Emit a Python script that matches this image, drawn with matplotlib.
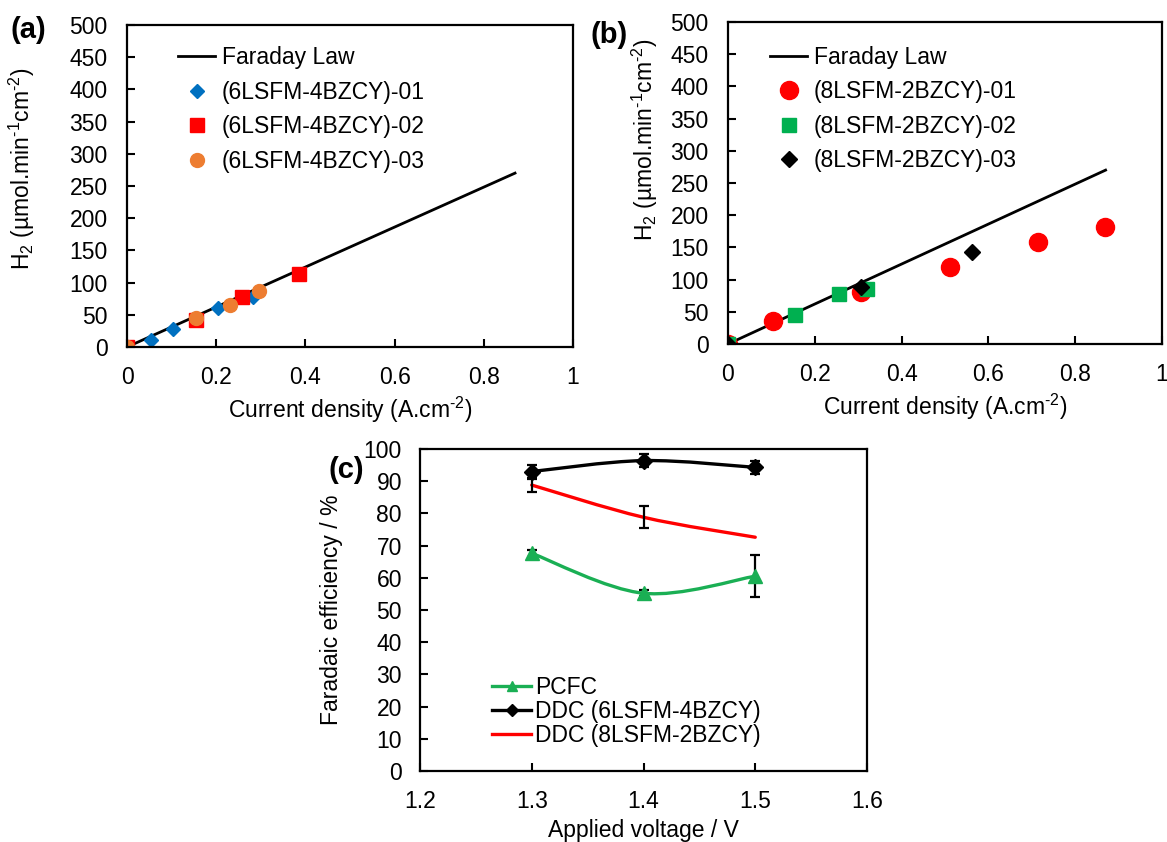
import numpy as np
import matplotlib
matplotlib.use("Agg")
import matplotlib.pyplot as plt
from matplotlib.path import Path
from matplotlib.patches import PathPatch
from matplotlib.lines import Line2D

plt.rcParams['font.family'] = ['Liberation Sans', 'DejaVu Sans']
plt.rcParams['mathtext.fontset'] = 'custom'
plt.rcParams['mathtext.rm'] = 'Liberation Sans'
plt.rcParams['mathtext.it'] = 'Liberation Sans:italic'

# Faraday law line
faraday_x = [0, 0.87]
faraday_y = [0, 270]

# panel (a)
a1_x = [0, 0.053, 0.104, 0.203, 0.282]
a1_y = [0, 11, 28, 60, 78]
a2_x = [0, 0.155, 0.257, 0.386]
a2_y = [0, 42, 77, 113]
a3_x = [0, 0.155, 0.232, 0.297]
a3_y = [0, 45, 65, 87]

# panel (b)
b1_x = [0, 0.104, 0.307, 0.511, 0.714, 0.868]
b1_y = [0, 36, 81, 119, 159, 181]
b2_x = [0, 0.155, 0.256, 0.321]
b2_y = [0, 45, 77, 85]
b3_x = [0, 0.307, 0.563]
b3_y = [0, 88, 143]

# panel (c)
volt = [1.3, 1.4, 1.5]
pcfc = [67.6, 55.2, 60.5]
pcfc_err = [1.0, 1.0, 6.5]
ddc6 = [93.0, 96.4, 94.3]
ddc6_err = [2.0, 2.0, 2.0]
ddc8 = [88.8, 78.8, 72.6]
ddc8_err = [2.0, 3.4, 0.0]

FS = 16.5


def smooth_path(x, y):
    # Excel-like smoothed line through the points (bezier)
    x = np.asarray(x, float)
    y = np.asarray(y, float)
    n = len(x)
    verts = [(x[0], y[0])]
    codes = [Path.MOVETO]
    for i in range(n - 1):
        p0 = np.array([x[max(i - 1, 0)], y[max(i - 1, 0)]])
        p1 = np.array([x[i], y[i]])
        p2 = np.array([x[i + 1], y[i + 1]])
        p3 = np.array([x[min(i + 2, n - 1)], y[min(i + 2, n - 1)]])
        c1 = p1 + (p2 - p0) / 6
        c2 = p2 - (p3 - p1) / 6
        verts += [tuple(c1), tuple(c2), tuple(p2)]
        codes += [Path.CURVE4] * 3
    return Path(verts, codes)


def style(ax, ypad=14, xpad=14):
    for s in ax.spines.values():
        s.set_linewidth(1.6)
    ax.tick_params(direction='in', length=6, width=1.5, labelsize=FS)
    ax.tick_params(axis='y', pad=ypad)
    ax.tick_params(axis='x', pad=xpad)


fig = plt.figure(figsize=(11.67, 8.42), dpi=100)
W, H = 1167, 842


def add_ax(l, t, r, b):
    return fig.add_axes([l / W, 1 - b / H, (r - l) / W, (b - t) / H])


ylab = 'H$_2$ (µmol.min$^{\u2010 1}$cm$^{\u2010 2}$)'
xlab = 'Current density (A.cm$^{\u2010 2}$)'

# (a)
ax = add_ax(127, 25, 573, 347)
ax.plot(faraday_x, faraday_y, color='black', lw=2, label='Faraday Law')
ax.plot(a1_x, a1_y, 'D', color='#0070C0', ms=7.5, ls='none', label='(6LSFM-4BZCY)-01')
ax.plot(a2_x, a2_y, 's', color='#FF0000', ms=9.5, ls='none', label='(6LSFM-4BZCY)-02')
ax.plot(a3_x, a3_y, 'o', color='#ED7D31', ms=10, ls='none', label='(6LSFM-4BZCY)-03')
ax.set_xlim(0, 1)
ax.set_ylim(0, 500)
ax.set_xticks([0, 0.2, 0.4, 0.6, 0.8, 1])
ax.set_xticklabels(['0', '0.2', '0.4', '0.6', '0.8', '1'])
ax.set_yticks(range(0, 501, 50))
style(ax)
ax.set_xlabel(xlab, fontsize=FS, labelpad=4)
ax.set_ylabel(ylab, fontsize=FS)
ax.yaxis.set_label_coords(-0.202, 0.553)
ax.legend(loc='upper left', bbox_to_anchor=(0.069, 0.998), frameon=False, fontsize=FS,
          handlelength=1.6, handletextpad=0.3, labelspacing=0.5)
fig.text(10 / W, 1 - 30 / H, '(a)', fontsize=21, fontweight='bold', va='center')

# (b)
ax = add_ax(728, 22, 1162, 344)
ax.plot(faraday_x, faraday_y, color='black', lw=2, label='Faraday Law')
ax.plot(b1_x, b1_y, 'o', color='#FF0000', ms=13, ls='none', label='(8LSFM-2BZCY)-01')
ax.plot(b2_x, b2_y, 's', color='#00B050', ms=10, ls='none', label='(8LSFM-2BZCY)-02')
ax.plot(b3_x, b3_y, 'D', color='black', ms=8.5, ls='none', label='(8LSFM-2BZCY)-03')
ax.set_xlim(0, 1)
ax.set_ylim(0, 500)
ax.set_xticks([0, 0.2, 0.4, 0.6, 0.8, 1])
ax.set_xticklabels(['0', '0.2', '0.4', '0.6', '0.8', '1'])
ax.set_yticks(range(0, 501, 50))
style(ax)
ax.set_xlabel(xlab, fontsize=FS, labelpad=4)
ax.set_ylabel(ylab, fontsize=FS)
ax.yaxis.set_label_coords(-0.157, 0.634)
ax.legend(loc='upper left', bbox_to_anchor=(0.05, 0.99), frameon=False, fontsize=FS,
          handlelength=1.6, handletextpad=0.3, labelspacing=0.5)
fig.text(590 / W, 1 - 35 / H, '(b)', fontsize=21, fontweight='bold', va='center')

# (c)
ax = add_ax(420, 449, 867, 771)
series = [
    (pcfc, pcfc_err, '#1AAF54', '^', 10.5, 'PCFC'),
    (ddc6, ddc6_err, 'black', 'D', 8, 'DDC (6LSFM-4BZCY)'),
    (ddc8, ddc8_err, '#FF0000', None, 0, 'DDC (8LSFM-2BZCY)'),
]
handles = []
for vals, err, col, mk, ms, lab in series:
    ax.add_patch(PathPatch(smooth_path(volt, vals), fill=False, edgecolor=col, lw=2.4,
                           capstyle='round', zorder=2))
    keep = [i for i, e in enumerate(err) if e > 0]
    ax.errorbar([volt[i] for i in keep], [vals[i] for i in keep], yerr=[err[i] for i in keep],
                fmt='none', ecolor='black', elinewidth=1.6, capsize=3.5, capthick=1.6, zorder=3)
    if mk:
        ax.plot(volt, vals, mk, color=col, ms=ms, ls='none', zorder=4)
        handles.append(Line2D([], [], color=col, lw=2.4, marker=mk, ms=ms * 0.75, label=lab))
    else:
        handles.append(Line2D([], [], color=col, lw=2.4, label=lab))
ax.set_xlim(1.2, 1.6)
ax.set_ylim(0, 100)
ax.set_xticks([1.2, 1.3, 1.4, 1.5, 1.6])
ax.set_xticklabels(['1.2', '1.3', '1.4', '1.5', '1.6'])
ax.set_yticks(range(0, 101, 10))
style(ax, ypad=13, xpad=14)
ax.set_xlabel('Applied voltage / V', fontsize=FS, labelpad=4)
ax.set_ylabel('Faradaic efficiency / %', fontsize=FS, labelpad=15)
ax.legend(handles=handles, loc='lower left', bbox_to_anchor=(0.116, 0.01), frameon=False,
          fontsize=FS, handlelength=1.7, handletextpad=0.15, labelspacing=0.05)
fig.text(328 / W, 1 - 470 / H, '(c)', fontsize=21, fontweight='bold', va='center')

fig.savefig('out.png', dpi=100)
